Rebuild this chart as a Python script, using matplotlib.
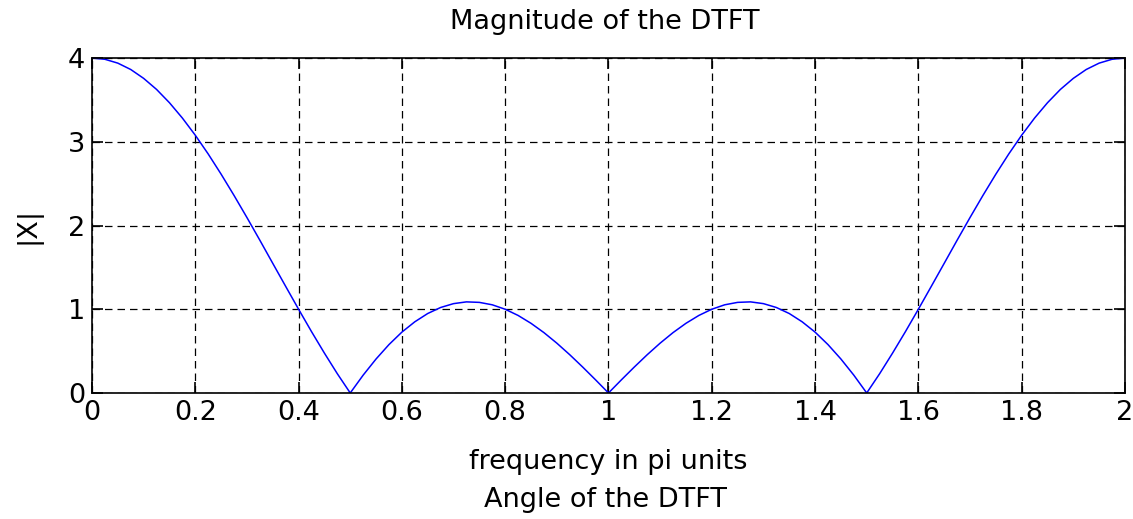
import numpy as np
import matplotlib.pyplot as plt

# |X(e^jw)| sampled over 0..2 pi, in steps of 0.025 pi
mag = [4.000, 3.985, 3.939, 3.863, 3.757, 3.625, 3.466, 3.283, 3.078, 2.854,
       2.613, 2.359, 2.095, 1.824, 1.548, 1.273, 1.000, 0.733, 0.476, 0.230,
       0.000, 0.213, 0.406, 0.578, 0.727, 0.850, 0.949, 1.021, 1.067, 1.088,
       1.082, 1.053, 1.000, 0.926, 0.832, 0.721, 0.595, 0.457, 0.310, 0.157,
       0.000,
       0.157, 0.310, 0.457, 0.595, 0.721, 0.832, 0.926, 1.000, 1.053, 1.082,
       1.088, 1.067, 1.021, 0.949, 0.850, 0.727, 0.578, 0.406, 0.213, 0.000,
       0.230, 0.476, 0.733, 1.000, 1.273, 1.548, 1.824, 2.095, 2.359, 2.613,
       2.854, 3.078, 3.283, 3.466, 3.625, 3.757, 3.863, 3.939, 3.985, 4.000]
freq = np.linspace(0, 2, len(mag))

xticks = [0, 0.2, 0.4, 0.6, 0.8, 1, 1.2, 1.4, 1.6, 1.8, 2]
xticklabels = ['0', '0.2', '0.4', '0.6', '0.8', '1', '1.2', '1.4', '1.6', '1.8', '2']
yticks = [0, 1, 2, 3, 4]

plt.rcParams['font.family'] = ['DejaVu Sans']
fs = 19.5

fig = plt.figure(figsize=(11.33, 5.19), dpi=100)
ax = fig.add_axes([0.0812, 0.2428, 0.9117, 0.6454])

ax.plot(freq, mag, color='#0000ff', lw=1.1)
ax.set_xlim(0, 2)
ax.set_ylim(0, 4)
ax.set_xticks(xticks)
ax.set_xticklabels(xticklabels)
ax.set_yticks(yticks)
ax.grid(True, color='black', linestyle=(0, (6, 4)), linewidth=0.9)
ax.tick_params(direction='in', length=8, width=1.2, top=True, right=True,
               pad=5, labelsize=fs)
for s in ax.spines.values():
    s.set_linewidth(1.2)

ax.set_xlabel('frequency in pi units', fontsize=fs, va='center')
ax.xaxis.set_label_coords(0.5, -0.206)
ax.set_ylabel('|X|', fontsize=fs, va='center')
ax.yaxis.set_label_coords(-0.062, 0.5)

fig.text(0.534, 0.958, 'Magnitude of the DTFT', ha='center', va='center', fontsize=fs)
# title of the phase subplot below, cut off at the figure edge
fig.text(0.534, 0.037, 'Angle of the DTFT', ha='center', va='center', fontsize=fs)

fig.savefig('out.png', dpi=100)
